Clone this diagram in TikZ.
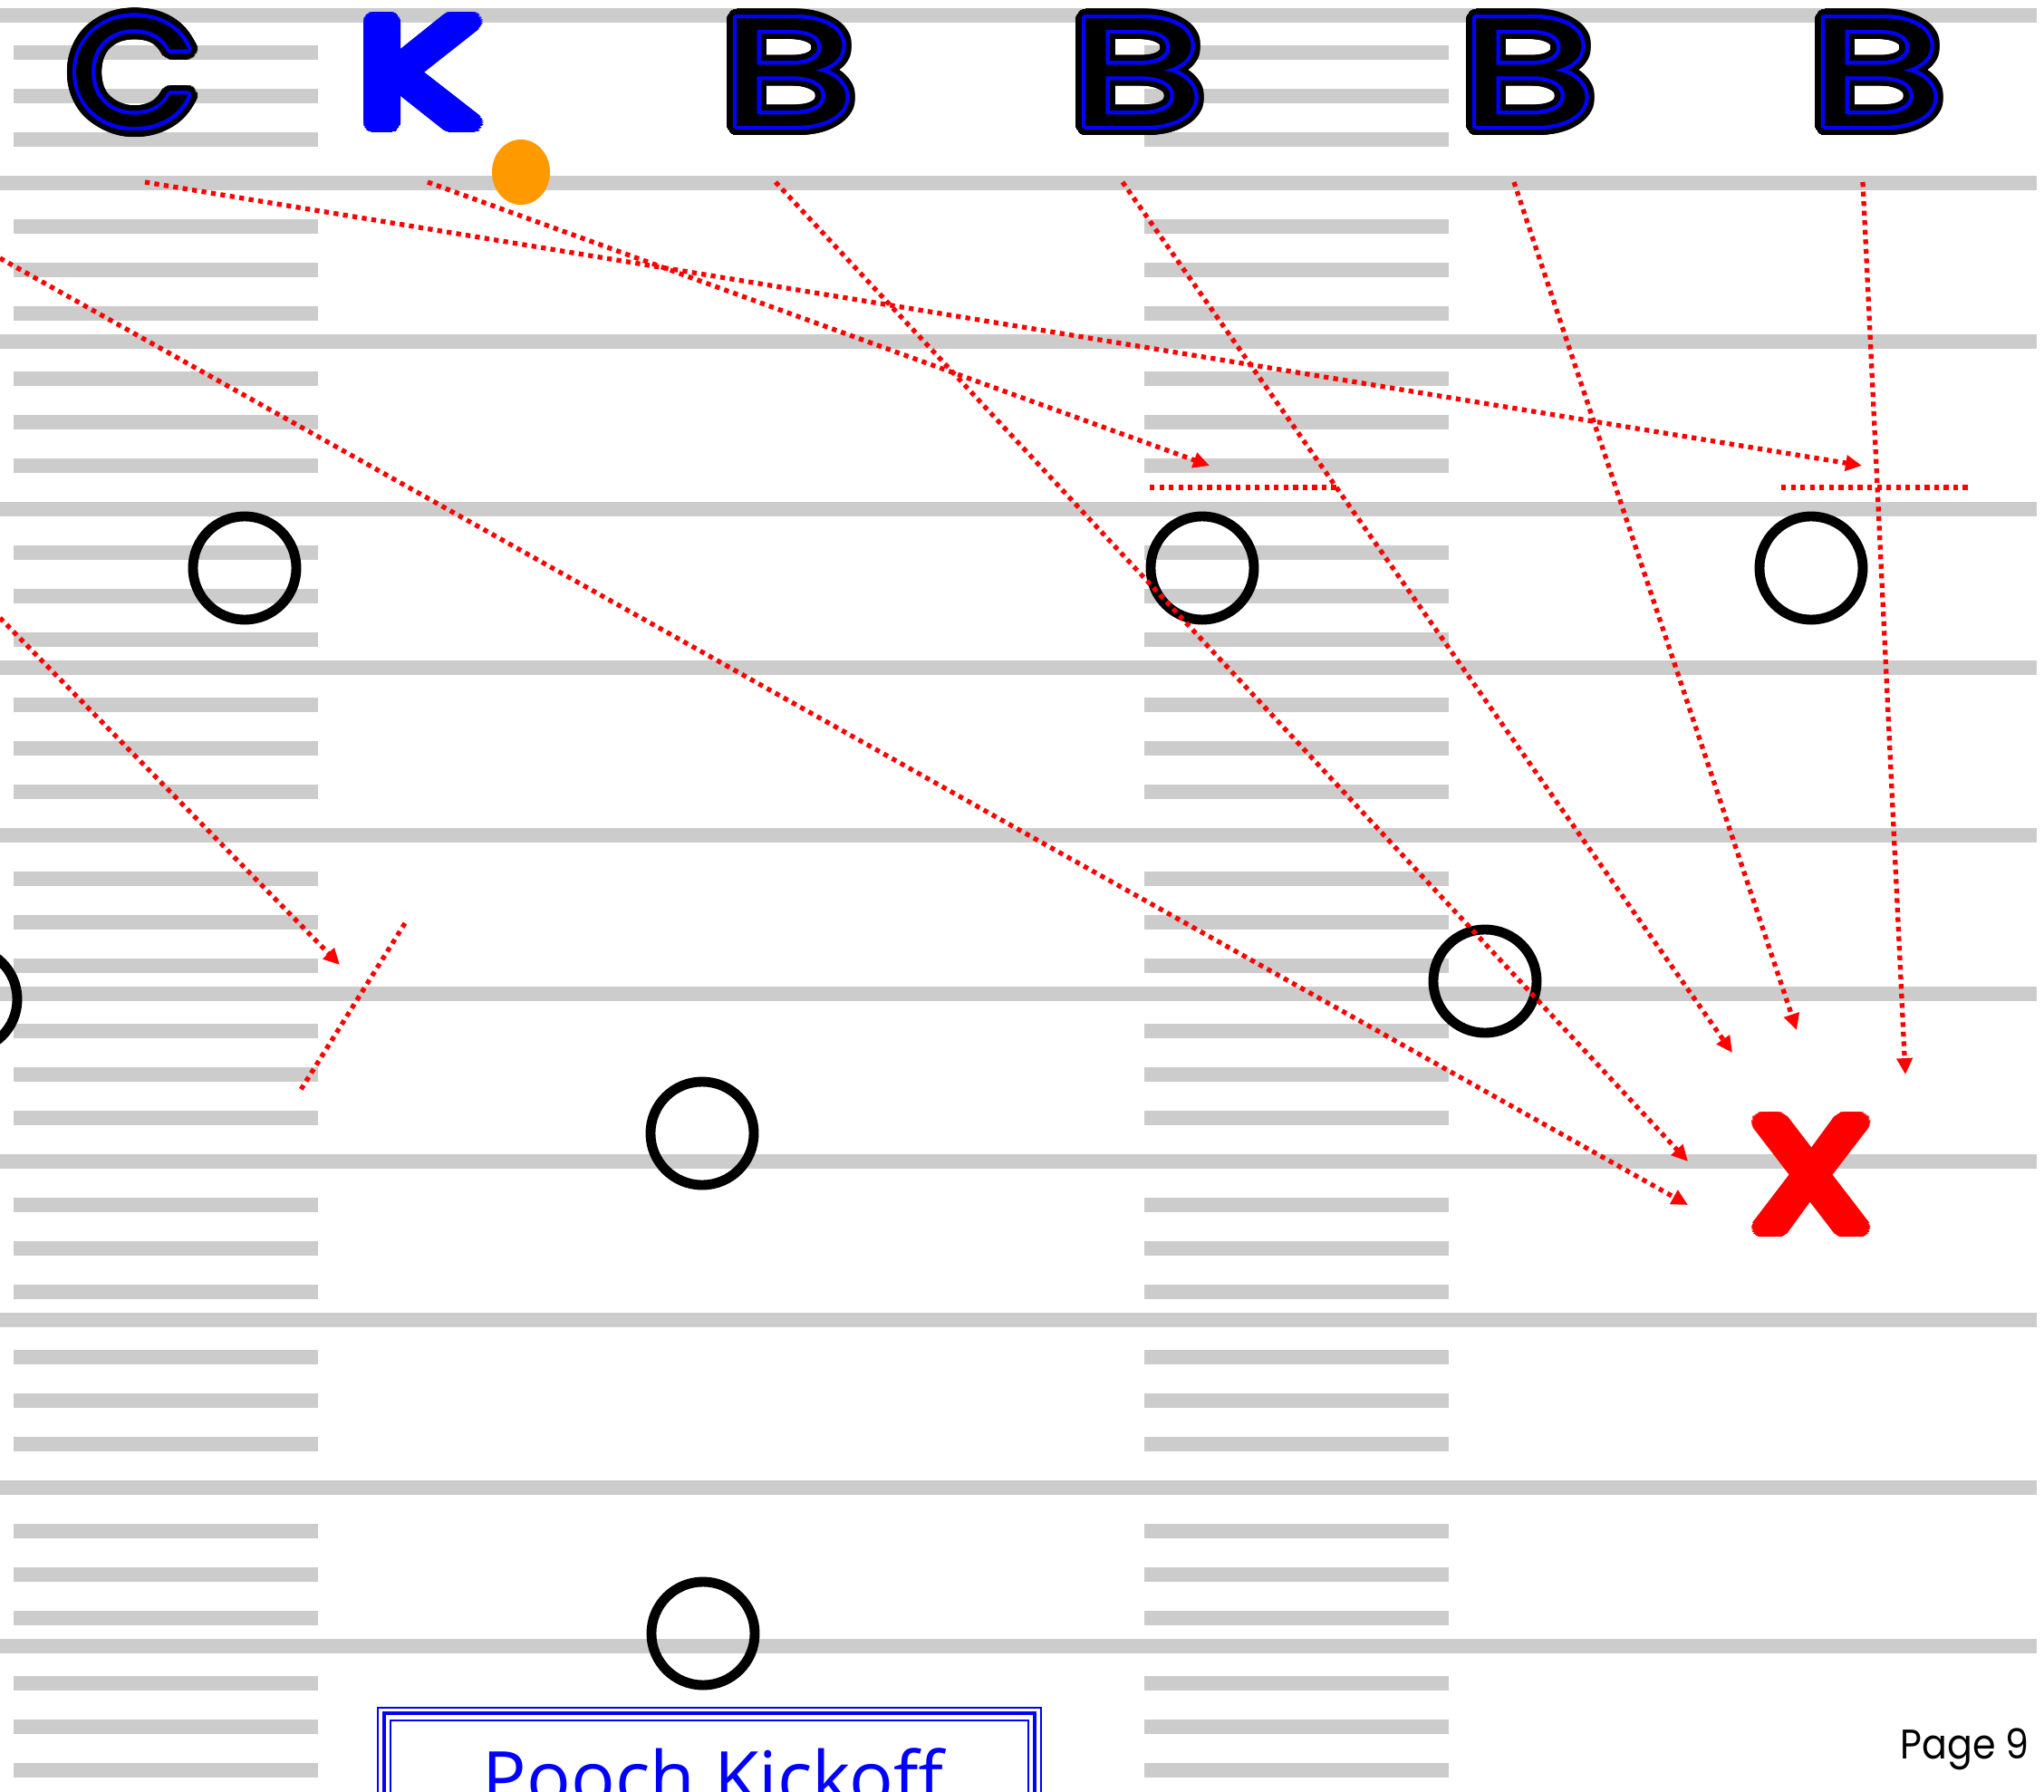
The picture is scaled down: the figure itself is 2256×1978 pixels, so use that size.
\documentclass[tikz,border=0pt]{standalone}
\usepackage{fontspec}
\newfontfamily\pop{Poppins}
\newfontfamily\titlef{Open Sans}
\usetikzlibrary{arrows.meta,shapes.geometric}
\definecolor{hashgray}{HTML}{CCCCCC}
\definecolor{ballorange}{RGB}{255,153,0}
\definecolor{pblue}{RGB}{0,0,255}
\definecolor{pred}{RGB}{255,0,0}
\newcommand\outlinedletter[5]{% name, x, y, letter, style
  \foreach \a in {0,10,...,350} {%
    \path (#2,#3) ++(\a:10.5) node[#5,text=black]{#4};
    \path (#2,#3) ++(\a:7) node[#5,text=black]{#4};}
  \foreach \a in {0,15,...,345} {%
    \path (#2,#3) ++(\a:4) node[#5,text=pblue]{#4};
    \path (#2,#3) ++(\a:2) node[#5,text=pblue]{#4};}
  \node[#5,text=black] (#1) at (#2,#3) {#4};
}
\newcommand\solidletter[6]{% name, x, y, letter, colour, style
  \foreach \a in {0,10,...,350} {%
    \path (#2,#3) ++(\a:10) node[#6,text=#5]{#4};
    \path (#2,#3) ++(\a:6) node[#6,text=#5]{#4};
    \path (#2,#3) ++(\a:3) node[#6,text=#5]{#4};}
  \node[#6,text=#5] (#1) at (#2,#3) {#4};
}
\begin{document}
\begin{tikzpicture}[x=0.01cm,y=-0.01cm,
  gridline/.style={hashgray, line width=0.16cm},
  player/.style={circle, draw=black, line width=3.1pt, minimum size=1.14cm, inner sep=0pt},
  route/.style={pred, line width=1.5pt, dash pattern=on 1.5pt off 1.5pt},
  routearrow/.style={route, -{Triangle[length=5.1pt,width=4.8pt]}},
  cglyph/.style={inner sep=0pt, font=\pop\fontsize{48.5}{48.5}\selectfont, xscale=1.08},
  bglyph/.style={inner sep=0pt, font=\pop\fontsize{48.5}{48.5}\selectfont, xscale=1.45},
  kglyph/.style={inner sep=0pt, font=\pop\fontsize{46}{46}\selectfont, xscale=1.4},
  xglyph/.style={inner sep=0pt, font=\pop\fontsize{48}{48}\selectfont, xscale=1.25},
]
\useasboundingbox (0,0) rectangle (2256,1978);
\clip (0,0) rectangle (2256,1978);
\fill[white] (0,0) rectangle (2256,1978);

% yard lines
\foreach \y in {17,202,377,562,737,922,1097,1282,1457,1642,1817}
  \draw[gridline] (0,\y) -- (2248,\y);
% hash marks
\foreach \n in {0,...,5}
  \foreach \d in {41,89,137,233,281,329} {
    \pgfmathsetmacro\yy{17+360*\n+\d}
    \draw[gridline] (15,\yy) -- (351,\yy);
    \draw[gridline] (1263,\yy) -- (1599,\yy);
  }

% players
\node[player] (p1) at (270,627) {};
\node[player] (p2) at (1327,627) {};
\node[player] (p3) at (1999,627) {};
\node[player] (p4) at (-38,1103) {};
\node[player] (p5) at (1639,1083) {};
\node[player] (p6) at (775,1251) {};
\node[player] (p7) at (776,1803) {};

% route coordinates
\coordinate (sC) at (160,201);
\coordinate (sK) at (472,201);
\coordinate (sB1) at (856,201);
\coordinate (sB2) at (1239,201);
\coordinate (sB3) at (1671,201);
\coordinate (sB4) at (2056,201);
\coordinate (sL1) at (0,285);
\coordinate (sL2) at (0,682);
\coordinate (eC) at (2055,514);
\coordinate (eK) at (1335,514);
\coordinate (eB1) at (1863,1282);
\coordinate (eB2) at (1912,1162);
\coordinate (eB3) at (1983,1137);
\coordinate (eB4) at (2103,1186);
\coordinate (eL1) at (1863,1330);
\coordinate (eL2) at (375,1065);
\coordinate (b1a) at (1269,538);
\coordinate (b1b) at (1476,538);
\coordinate (b2a) at (1966,538);
\coordinate (b2b) at (2174,538);
\coordinate (b3a) at (447,1019);
\coordinate (b3b) at (330,1206);

\draw[routearrow] (sC) -- (eC);
\draw[routearrow] (sK) -- (eK);
\draw[routearrow] (sB1) -- (eB1);
\draw[routearrow] (sB2) -- (eB2);
\draw[routearrow] (sB3) -- (eB3);
\draw[routearrow] (sB4) -- (eB4);
\draw[routearrow] (sL1) -- (eL1);
\draw[routearrow] (sL2) -- (eL2);
\draw[route] (b1a) -- (b1b);
\draw[route] (b2a) -- (b2b);
\draw[route] (b3a) -- (b3b);

% ball
\node[ellipse, fill=ballorange, minimum width=0.64cm, minimum height=0.72cm, inner sep=0pt] (ball) at (575,190) {};

% letters
\outlinedletter{C}{148}{80}{C}{cglyph}
\solidletter{K}{462}{80}{K}{pblue}{kglyph}
\outlinedletter{B1}{870}{80}{B}{bglyph}
\outlinedletter{B2}{1255}{80}{B}{bglyph}
\outlinedletter{B3}{1686}{80}{B}{bglyph}
\outlinedletter{B4}{2071}{80}{B}{bglyph}

% target X
\solidletter{X}{1999}{1297}{X}{pred}{xglyph}

% title box
\draw[pblue, line width=0.02cm] (417,1885) rectangle (1149,2100);
\draw[pblue, line width=0.045cm] (424,1891) rectangle (1142,2100);
\draw[pblue, line width=0.025cm] (431,1899) rectangle (1135,2100);
\node[anchor=base, inner sep=0pt, text=pblue, font=\titlef\fontsize{23}{23}\selectfont] (title) at (787,1991) {Pooch Kickoff};

\node[anchor=base west, inner sep=0pt, xscale=0.9, font=\pop\fontsize{13}{13}\selectfont] (page) at (2097,1941) {Page 9};
\end{tikzpicture}
\end{document}
